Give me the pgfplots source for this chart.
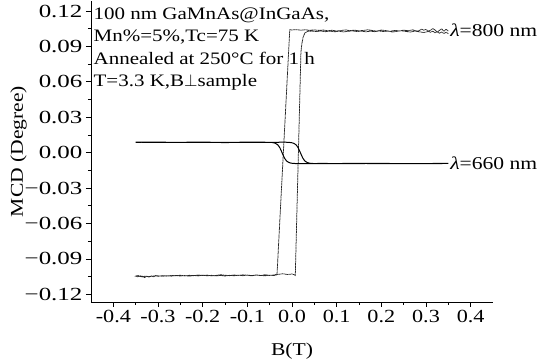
\documentclass[border=0pt]{standalone}
\usepackage{fontspec}
\setmainfont{Liberation Serif}[FakeStretch=1.2]
\newfontfamily\ytickfont{Liberation Serif}[FakeStretch=1.35]
\usepackage{pgfplots}
\pgfplotsset{compat=1.18}
\begin{document}
\begin{tikzpicture}
\begin{axis}[
  scale only axis, width=402pt, height=301pt,
  xmin=-0.45, xmax=0.45, ymin=-0.1265, ymax=0.1285,
  axis x line*=bottom, axis y line*=left,
  axis line style={-, line width=0.8pt},
  xtick={-0.4,-0.3,-0.2,-0.1,0,0.1,0.2,0.3,0.4},
  xticklabels={-0.4,-0.3,-0.2,-0.1,0.0,0.1,0.2,0.3,0.4},
  ytick={-0.12,-0.09,-0.06,-0.03,0,0.03,0.06,0.09,0.12},
  yticklabels={−0.12,−0.09,−0.06,−0.03,0.00,0.03,0.06,0.09,0.12},
  minor x tick num=1, minor y tick num=1,
  tick align=outside,
  major tick length=5pt, minor tick length=3pt,
  tick style={line width=0.8pt, black},
  xticklabel style={font=\fontsize{18.5}{20}\selectfont},
  yticklabel style={font=\ytickfont\fontsize{18.5}{20}\selectfont},
  xlabel={B(T)}, ylabel={MCD (Degree)},
  label style={font=\fontsize{18}{20}\selectfont},
  xlabel style={at={(axis description cs:0.5,-0.163)}, anchor=center},
  ylabel style={at={(axis description cs:-0.18,0.5)}, anchor=center},
  clip=false,
]
% lambda = 800 nm hysteresis loop
\addplot[black!85, line width=0.75pt, dash pattern=on 1.2pt off 0.4pt] coordinates {
(0.350,0.1030)(0.345,0.1046)(0.340,0.1028)(0.335,0.1050)(0.330,0.1035)(0.325,0.1022)(0.320,0.1040)(0.315,0.1052)(0.310,0.1036)(0.305,0.1030)(0.300,0.1044)(0.295,0.1038)(0.290,0.1047)(0.285,0.1035)(0.280,0.1030)(0.270,0.1041)(0.260,0.1033)(0.250,0.1038)(0.240,0.1031)(0.230,0.1036)(0.220,0.1028)(0.210,0.1034)(0.200,0.1039)(0.190,0.1030)(0.180,0.1035)(0.170,0.1041)(0.160,0.1036)(0.150,0.1032)(0.140,0.1038)(0.130,0.1034)(0.120,0.1040)(0.110,0.1035)(0.100,0.1031)(0.090,0.1037)(0.080,0.1033)(0.070,0.1039)(0.060,0.1036)(0.050,0.1040)(0.040,0.1037)(0.030,0.1041)(0.020,0.1038)(0.010,0.1042)(0.000,0.1040)(-0.005,0.1041)
(-0.0335,-0.1030)
(-0.040,-0.1036)(-0.050,-0.1040)(-0.060,-0.1034)(-0.070,-0.1041)(-0.080,-0.1037)(-0.090,-0.1043)(-0.100,-0.1038)(-0.110,-0.1035)(-0.120,-0.1040)(-0.130,-0.1036)(-0.140,-0.1042)(-0.150,-0.1038)(-0.160,-0.1034)(-0.170,-0.1040)(-0.180,-0.1044)(-0.190,-0.1037)(-0.200,-0.1041)(-0.210,-0.1036)(-0.220,-0.1042)(-0.230,-0.1039)(-0.240,-0.1044)(-0.250,-0.1038)(-0.260,-0.1043)(-0.270,-0.1040)(-0.280,-0.1046)(-0.290,-0.1041)(-0.300,-0.1048)(-0.305,-0.1040)(-0.310,-0.1052)(-0.315,-0.1044)(-0.320,-0.1055)(-0.325,-0.1046)(-0.330,-0.1058)(-0.335,-0.1045)(-0.340,-0.1050)(-0.345,-0.1040)(-0.350,-0.1046)
(-0.345,-0.1052)(-0.340,-0.1043)(-0.335,-0.1054)(-0.330,-0.1047)(-0.320,-0.1050)(-0.310,-0.1045)(-0.300,-0.1043)(-0.290,-0.1047)(-0.280,-0.1042)(-0.270,-0.1046)(-0.260,-0.1040)(-0.250,-0.1045)(-0.240,-0.1041)(-0.230,-0.1046)(-0.220,-0.1040)(-0.210,-0.1044)(-0.200,-0.1038)(-0.190,-0.1043)(-0.180,-0.1039)(-0.170,-0.1044)(-0.160,-0.1040)(-0.150,-0.1045)(-0.140,-0.1039)(-0.130,-0.1043)(-0.120,-0.1038)(-0.110,-0.1042)(-0.100,-0.1037)(-0.090,-0.1041)(-0.080,-0.1036)(-0.070,-0.1040)(-0.060,-0.1043)(-0.050,-0.1038)(-0.040,-0.1041)(-0.030,-0.1030)(-0.020,-0.1026)(-0.010,-0.1032)(0.000,-0.1028)(0.005,-0.1034)(0.0074,-0.1040)
(0.020,0.085)(0.022,0.092)(0.025,0.098)(0.029,0.1015)(0.035,0.1028)(0.045,0.1030)
(0.055,0.1026)(0.065,0.1031)(0.075,0.1025)(0.085,0.1030)(0.095,0.1024)(0.105,0.1029)(0.115,0.1023)(0.125,0.1028)(0.135,0.1032)(0.145,0.1026)(0.155,0.1030)(0.165,0.1024)(0.175,0.1029)(0.185,0.1025)(0.195,0.1031)(0.205,0.1026)(0.215,0.1030)(0.225,0.1022)(0.235,0.1028)(0.245,0.1033)(0.255,0.1027)(0.265,0.1022)(0.275,0.1030)(0.285,0.1024)(0.295,0.1018)(0.305,0.1027)(0.310,0.1020)(0.315,0.1030)(0.320,0.1016)(0.325,0.1025)(0.330,0.1012)(0.335,0.1022)(0.340,0.1010)(0.345,0.1020)(0.350,0.1008)
};
% lambda = 660 nm loop
\addplot[black, line width=1pt, smooth, tension=0.4] coordinates {
(-0.35,0.0088)(-0.30,0.0089)(-0.25,0.0087)(-0.20,0.0088)(-0.15,0.0086)(-0.10,0.0088)(-0.05,0.0087)(-0.02,0.0089)(-0.011,0.0088)(-0.001,0.0085)(0.004,0.0079)(0.009,0.0067)(0.014,0.0040)(0.019,-0.0002)(0.024,-0.0044)(0.029,-0.0071)(0.034,-0.0083)(0.039,-0.0089)(0.049,-0.0092)(0.07,-0.0091)(0.10,-0.0093)(0.15,-0.0092)(0.20,-0.0091)(0.25,-0.0093)(0.30,-0.0092)(0.35,-0.0091)
(0.30,-0.0093)(0.25,-0.0092)(0.20,-0.0093)(0.15,-0.0091)(0.10,-0.0092)(0.05,-0.0093)(0.02,-0.0092)(0.008,-0.0092)(-0.002,-0.0089)(-0.007,-0.0083)(-0.012,-0.0071)(-0.017,-0.0044)(-0.022,-0.0002)(-0.027,0.0040)(-0.032,0.0067)(-0.037,0.0079)(-0.042,0.0085)(-0.052,0.0088)(-0.10,0.0089)(-0.15,0.0087)(-0.20,0.0089)(-0.25,0.0088)(-0.30,0.0087)(-0.35,0.0089)
};
\node[anchor=north west, align=left, inner sep=0pt, font=\fontsize{17.5}{22.3}\selectfont] at (rel axis cs:0.006,0.978)
  {100 nm GaMnAs@InGaAs,\\Mn\%=5\%,Tc=75 K\\Annealed at 250°C for 1 h\\T=3.3 K,B$\perp$sample};
\node[anchor=west, inner sep=0pt, font=\fontsize{18}{20}\selectfont] at (axis cs:0.354,0.1035) {\textit{λ}=800 nm};
\node[anchor=west, inner sep=0pt, font=\fontsize{18}{20}\selectfont] at (axis cs:0.354,-0.0092) {\textit{λ}=660 nm};
\end{axis}
\pgfresetboundingbox
\path (-91pt,-62pt) rectangle (448pt,302pt);
\end{tikzpicture}
\end{document}
